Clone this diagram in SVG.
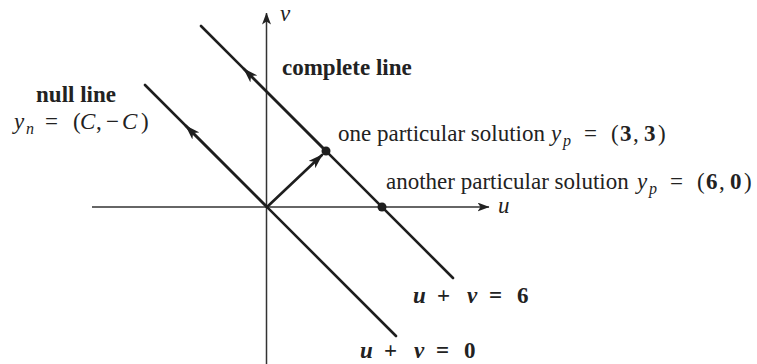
<svg xmlns="http://www.w3.org/2000/svg" width="757" height="364" viewBox="0 0 757 364">
<style>
.t{font-family:"Liberation Serif","Times New Roman",serif;font-size:23px;fill:#222}
.b{font-weight:bold}
.i{font-style:italic}
.s{font-size:16px}
.ax{stroke:#333;stroke-width:1.5;fill:none}
.ln{stroke:#1e1e1e;stroke-width:2.6;fill:none;stroke-linecap:round}
.dot{fill:#1e1e1e}
</style>
<defs>
<marker id="axa" viewBox="0 0 12 9" refX="11.5" refY="4.5" markerWidth="12" markerHeight="9" orient="auto" markerUnits="userSpaceOnUse"><path d="M0,0 L12,4.5 L0,9 L3,4.5 Z" fill="#222"/></marker>
<marker id="lna" viewBox="0 0 15 10" refX="14" refY="5" markerWidth="15" markerHeight="10" orient="auto" markerUnits="userSpaceOnUse"><path d="M0,0 L15,5 L0,10 L4,5 Z" fill="#1e1e1e"/></marker>
</defs>
<rect width="757" height="364" fill="#fff"/>
<g id="connectors">
<line class="ax" x1="266.5" y1="364" x2="266.5" y2="13" marker-end="url(#axa)"/>
<line class="ax" x1="92" y1="207" x2="489" y2="207" marker-end="url(#axa)"/>
<line class="ln" x1="396" y1="336" x2="145" y2="85"/>
<path class="ln" d="M267,207 L186,126" marker-end="url(#lna)"/>
<line class="ln" x1="453" y1="278" x2="201" y2="26"/>
<path class="ln" d="M326,151 L244,69" marker-end="url(#lna)"/>
<path class="ln" d="M267,207 L322,155" marker-end="url(#lna)"/>
</g>
<g id="points">
<circle class="dot" cx="326" cy="151" r="4.5"/>
<circle class="dot" cx="382" cy="207" r="4.5"/>
</g>
<g id="axis-labels">
<text class="t i" x="280" y="21">v</text>
<text class="t i" x="498" y="213">u</text>
</g>
<g id="null-line-label">
<text class="t b" x="76" y="102" text-anchor="middle">null line</text>
<text class="t"><tspan class="i" x="14" y="129">y</tspan><tspan class="i s" x="26" y="134">n</tspan><tspan x="45" y="129">=</tspan><tspan x="73" y="129">(</tspan><tspan class="i" x="80" y="129">C</tspan><tspan x="96" y="129">,</tspan><tspan x="106" y="129">−</tspan><tspan class="i" x="122" y="129">C</tspan><tspan x="141" y="129">)</tspan></text>
</g>
<g id="complete-line-label">
<text class="t b" x="282" y="75">complete line</text>
</g>
<g id="particular-1">
<text class="t" x="338" y="141">one particular solution</text>
<text class="t"><tspan class="i" x="551" y="141">y</tspan><tspan class="i s" x="563" y="146">p</tspan><tspan x="584" y="141">=</tspan><tspan x="611" y="141">(</tspan><tspan class="b" x="620" y="141">3</tspan><tspan x="633" y="141">,</tspan><tspan class="b" x="644" y="141">3</tspan><tspan x="658" y="141">)</tspan></text>
</g>
<g id="particular-2">
<text class="t" x="386" y="189">another particular solution</text>
<text class="t"><tspan class="i" x="637" y="189">y</tspan><tspan class="i s" x="649" y="194">p</tspan><tspan x="670" y="189">=</tspan><tspan x="697" y="189">(</tspan><tspan class="b" x="706" y="189">6</tspan><tspan x="719" y="189">,</tspan><tspan class="b" x="730" y="189">0</tspan><tspan x="744" y="189">)</tspan></text>
</g>
<g id="eq-6">
<text class="t b"><tspan class="i" x="413" y="303">u</tspan><tspan x="437" y="303">+</tspan><tspan class="i" x="467" y="303">v</tspan><tspan x="489" y="303">=</tspan><tspan x="517" y="303">6</tspan></text>
</g>
<g id="eq-0">
<text class="t b"><tspan class="i" x="360" y="358">u</tspan><tspan x="384" y="358">+</tspan><tspan class="i" x="414" y="358">v</tspan><tspan x="436" y="358">=</tspan><tspan x="464" y="358">0</tspan></text>
</g>
</svg>
